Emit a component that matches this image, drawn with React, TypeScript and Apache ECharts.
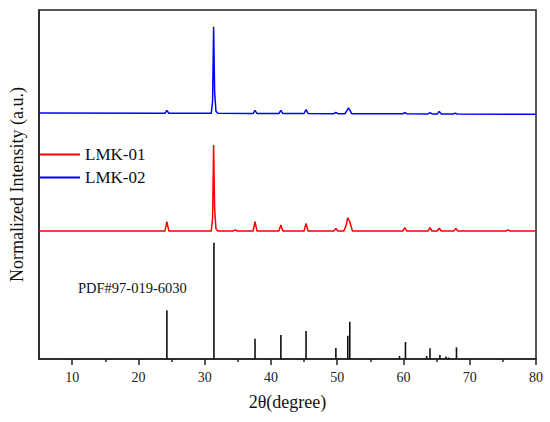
import React, { useEffect, useRef } from "react";
import * as echarts from "echarts";

// 2θ (degree), intensity in display units (sticks: 0–100, offsets applied to patterns)
const lmk01: [number, number][] = [
  [5, 110], [24.0, 110], [24.3, 118], [24.6, 110],
  [31.0, 110], [31.2, 122], [31.35, 184], [31.5, 130], [31.7, 112], [32.0, 110],
  [34.3, 110], [34.6, 111], [34.9, 110],
  [37.3, 110], [37.6, 118], [37.9, 110],
  [41.2, 110], [41.5, 115.2], [41.8, 110],
  [45.0, 110], [45.3, 116.6], [45.6, 110],
  [49.5, 110], [49.8, 112.3], [50.1, 110],
  [51.0, 110], [51.3, 114], [51.6, 121.4], [51.9, 118], [52.3, 110],
  [59.9, 110], [60.2, 113], [60.5, 110],
  [63.7, 110], [64.0, 113], [64.3, 110],
  [65.1, 110], [65.4, 112.5], [65.7, 110],
  [67.6, 110], [67.9, 112.3], [68.2, 110],
  [75.5, 110], [75.8, 111], [76.1, 110],
  [80, 110],
];

const lmk02: [number, number][] = [
  [5, 211.5], [24.0, 211.3], [24.3, 213.6], [24.6, 211.3],
  [31.0, 211.2], [31.2, 222], [31.35, 285.6], [31.5, 230], [31.7, 213], [32.0, 211.2],
  [37.3, 211], [37.6, 213.8], [37.9, 211],
  [41.2, 211], [41.5, 213.8], [41.8, 211],
  [45.0, 211], [45.3, 214.4], [45.6, 211],
  [49.5, 210.9], [49.8, 212], [50.1, 210.9],
  [51.2, 210.9], [51.7, 215.8], [52.2, 210.9],
  [59.9, 210.8], [60.2, 211.8], [60.5, 210.8],
  [63.7, 210.7], [64.0, 211.7], [64.3, 210.7],
  [65.1, 210.7], [65.4, 212.7], [65.7, 210.7],
  [67.5, 210.6], [67.8, 211.4], [68.1, 210.6],
  [80, 210.4],
];

const pdfSticks: [number, number][] = [
  [24.3, 42], [31.4, 100], [37.6, 17.5], [41.5, 20.6], [45.3, 24],
  [49.8, 9.5], [51.6, 20], [51.9, 32], [59.4, 2.6], [60.3, 14.6],
  [63.5, 2.6], [64.0, 9.2], [65.5, 3.4], [66.4, 2.1], [66.8, 1.3], [68.0, 10],
];

const majorTicks = [10, 20, 30, 40, 50, 60, 70, 80];
const minorTicks = [15, 25, 35, 45, 55, 65, 75];
const seriesNames = ["LMK-01", "LMK-02"];
const xTitle = "2θ(degree)";
const yTitle = "Normalized Intensity (a.u.)";
const pdfLabel = "PDF#97-019-6030";

const FONT = "'Liberation Serif', 'Times New Roman', serif";

export default function App() {
  const ref = useRef<HTMLDivElement>(null);
  useEffect(() => {
    if (!ref.current) return;
    const chart = echarts.init(ref.current, null, { renderer: "svg" });
    chart.setOption({
      animation: false,
      textStyle: { fontFamily: FONT },
      grid: {
        left: 36, right: 14, top: 10, bottom: 63,
        show: true, borderColor: "#222", borderWidth: 1.5, backgroundColor: "transparent",
      },
      legend: {
        data: seriesNames,
        orient: "vertical",
        left: 40,
        top: 145,
        padding: 0,
        icon: "rect",
        itemWidth: 40,
        itemHeight: 2,
        itemGap: 4,
        textStyle: { fontFamily: FONT, fontSize: 17, color: "#111", lineHeight: 19 },
      },
      xAxis: [
        {
          type: "value", min: 5, max: 80,
          name: xTitle, nameLocation: "middle", nameGap: 34,
          nameTextStyle: { fontFamily: FONT, fontSize: 18, color: "#111" },
          axisLine: { show: true, lineStyle: { color: "#222", width: 1.5 } },
          axisTick: { show: true, inside: false, length: 6, customValues: majorTicks, lineStyle: { color: "#222", width: 1.5 } },
          axisLabel: { show: true, customValues: majorTicks, margin: 11, fontFamily: FONT, fontSize: 14, color: "#222" },
          splitLine: { show: false },
        },
        {
          type: "value", min: 5, max: 80, position: "bottom", offset: 0,
          axisLine: { show: false },
          axisTick: { show: true, inside: false, length: 3, customValues: minorTicks, lineStyle: { color: "#222", width: 1.5 } },
          axisLabel: { show: false },
          splitLine: { show: false },
        },
      ],
      yAxis: {
        type: "value", min: 0, max: 300,
        name: yTitle, nameLocation: "middle", nameGap: 13,
        nameTextStyle: { fontFamily: FONT, fontSize: 18, color: "#111" },
        axisLine: { show: true, lineStyle: { color: "#222", width: 1.5 } },
        axisTick: { show: false },
        axisLabel: { show: false },
        splitLine: { show: false },
      },
      graphic: [
        {
          type: "text", left: 78, top: 280,
          style: { text: pdfLabel, font: `14.5px ${FONT}`, fill: "#111" },
        },
      ],
      series: [
        {
          name: seriesNames[0], type: "line", xAxisIndex: 0, data: lmk01,
          symbol: "none", lineStyle: { color: "#ff0000", width: 1.5 }, itemStyle: { color: "#ff0000" },
        },
        {
          name: seriesNames[1], type: "line", xAxisIndex: 0, data: lmk02,
          symbol: "none", lineStyle: { color: "#0000ff", width: 1.5 }, itemStyle: { color: "#0000ff" },
        },
        {
          name: "PDF", type: "bar", xAxisIndex: 0, data: pdfSticks,
          barWidth: 1.6, itemStyle: { color: "#111" },
        },
      ],
    });
    return () => chart.dispose();
  }, []);
  return (
    <div
      ref={ref}
      style={{ position: "fixed", left: 0, top: 0, width: 550, height: 422, background: "#fff" }}
    />
  );
}
